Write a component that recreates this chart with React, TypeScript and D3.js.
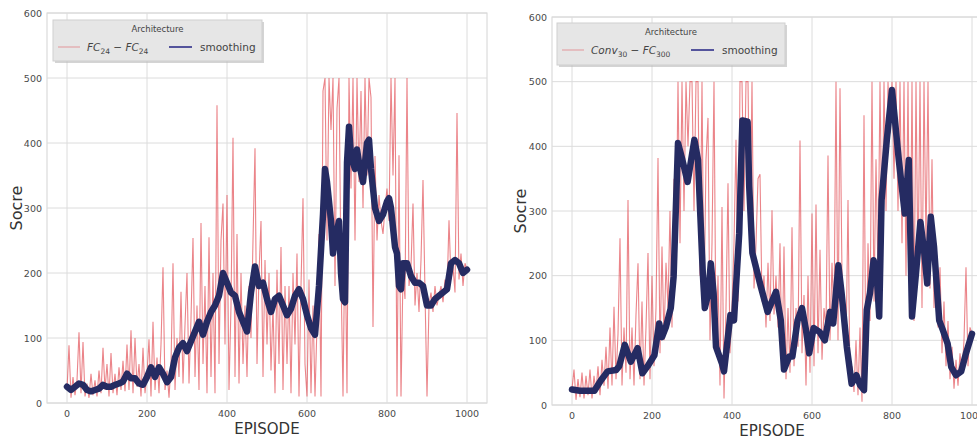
import * as d3 from 'd3';
import React from 'react';

// ---- data ----
const xTicks = [0, 200, 400, 600, 800, 1000];
const yTicks = [0, 100, 200, 300, 400, 500, 600];

// raw score, one value every 5 episodes (0..1000)
const rawStep = 5;
const rawFC = [
  20, 89, 8, 40, 12, 35, 109, 15, 94, 10,
  30, 8, 45, 12, 35, 10, 50, 15, 85, 20,
  60, 10, 77, 15, 45, 12, 55, 20, 65, 18,
  90, 20, 112, 15, 100, 25, 60, 10, 85, 15,
  45, 98, 10, 125, 20, 70, 15, 90, 209, 20,
  50, 8, 60, 215, 20, 100, 40, 171, 30, 120,
  200, 30, 130, 254, 40, 150, 20, 277, 60, 180,
  15, 255, 40, 200, 15, 458, 60, 250, 307, 90,
  320, 20, 150, 408, 40, 260, 30, 200, 60, 150,
  40, 180, 100, 250, 392, 60, 200, 280, 40, 220,
  90, 200, 50, 150, 15, 205, 60, 240, 20, 180,
  60, 180, 15, 200, 90, 230, 10, 180, 315, 60,
  10, 190, 15, 150, 10, 120, 260, 10, 480, 500,
  250, 500, 420, 500, 180, 453, 500, 200, 10, 270,
  15, 500, 330, 500, 250, 500, 340, 480, 300, 500,
  350, 500, 470, 117, 380, 250, 320, 280, 260, 300,
  330, 280, 500, 350, 500, 10, 381, 10, 200, 160,
  500, 180, 210, 307, 150, 200, 140, 220, 343, 170,
  10, 150, 170, 140, 180, 150, 165, 180, 155, 190,
  170, 281, 190, 210, 170, 446, 190, 230, 180, 215,
  205,
];
const rawConv = [
  25, 55, 8, 40, 12, 50, 10, 45, 15, 55,
  10, 45, 20, 60, 15, 70, 30, 90, 25, 120,
  30, 152, 40, 110, 258, 30, 120, 50, 317, 40,
  120, 30, 140, 219, 40, 160, 30, 120, 235, 40,
  200, 60, 150, 382, 80, 245, 100, 220, 150, 300,
  120, 350, 230, 500, 250, 500, 300, 500, 400, 500,
  500, 300, 500, 500, 200, 500, 150, 380, 444, 100,
  250, 500, 90, 200, 30, 306, 10, 150, 343, 80,
  150, 250, 410, 160, 500, 500, 300, 500, 500, 250,
  500, 180, 250, 350, 357, 160, 200, 120, 220, 130,
  301, 140, 200, 120, 250, 60, 245, 40, 150, 50,
  275, 60, 150, 90, 409, 80, 170, 30, 200, 50,
  296, 60, 310, 80, 240, 70, 150, 120, 386, 100,
  220, 130, 500, 100, 490, 200, 150, 80, 317, 30,
  60, 20, 100, 15, 120, 5, 448, 20, 250, 130,
  500, 160, 380, 200, 500, 250, 500, 300, 500, 420,
  500, 350, 500, 300, 500, 250, 500, 200, 500, 150,
  500, 130, 500, 200, 500, 150, 500, 250, 500, 180,
  380, 150, 250, 120, 213, 80, 160, 60, 130, 40,
  90, 25, 70, 30, 80, 50, 100, 213, 60, 120,
  110,
];

// smoothing curves
const smoothFCEp = [
  0, 10, 20, 30, 40, 50, 60, 70, 80, 90, 100, 110, 120, 130, 140, 150, 160, 170, 180, 190,
  200, 210, 220, 230, 240, 250, 260, 270, 280, 290, 300, 310, 320, 330, 340, 350, 360, 370, 380, 390,
  400, 410, 420, 430, 440, 450, 460, 470, 480, 490, 500, 510, 520, 530, 540, 550, 560, 570, 580, 590,
  600, 610, 620, 630, 640, 645, 650, 660, 665, 670, 680, 685, 690, 695, 700, 705, 710, 720, 725, 730,
  740, 750, 755, 760, 770, 780, 790, 800, 805, 810, 820, 825, 830, 835, 840, 850, 860, 870, 880, 890,
  900, 910, 920, 930, 940, 950, 960, 970, 980, 990, 1000,
];
const smoothFC = [
  25, 20, 25, 30, 28, 20, 18, 20, 22, 28, 25, 25, 28, 30, 33, 45, 38, 38, 30, 28,
  40, 55, 40, 55, 45, 32, 40, 70, 85, 92, 80, 95, 110, 125, 105, 125, 140, 150, 165, 200,
  185, 170, 165, 140, 125, 110, 170, 210, 180, 185, 160, 140, 160, 165, 150, 135, 145, 165, 175, 160,
  135, 115, 105, 180, 290, 360, 340, 280, 230, 250, 280, 200, 160, 155, 370, 425, 380, 360, 390, 370,
  340, 400, 405, 360, 300, 280, 290, 310, 315, 300, 240, 230, 180, 175, 215, 215, 195, 185, 185, 180,
  150, 150, 160, 165, 170, 175, 215, 220, 215, 200, 205,
];
const smoothConvEp = [
  0, 20, 40, 56, 72, 89, 110, 118, 132, 147, 164, 176, 189, 206, 218, 225, 235, 247, 254, 265,
  276, 289, 306, 315, 321, 327, 332, 341, 347, 354, 360, 375, 380, 396, 405, 418, 426, 439, 443, 451,
  472, 489, 510, 522, 530, 543, 551, 564, 575, 585, 593, 604, 619, 632, 645, 653, 666, 674, 687, 699,
  711, 720, 730, 737, 745, 754, 762, 768, 774, 787, 800, 808, 817, 832, 842, 850, 860, 871, 880, 888,
  897, 905, 918, 927, 939, 948, 960, 973, 985, 1000,
];
const smoothConv = [
  24, 22, 22, 22, 38, 52, 54, 60, 93, 67, 88, 49, 60, 77, 126, 105, 121, 150, 198, 405,
  379, 345, 410, 379, 291, 204, 150, 173, 219, 173, 90, 64, 52, 139, 131, 265, 440, 438, 338, 235,
  183, 144, 175, 131, 55, 75, 75, 131, 150, 116, 80, 119, 113, 100, 144, 126, 216, 173, 90, 33,
  46, 31, 23, 147, 173, 224, 198, 137, 317, 410, 487, 436, 379, 296, 379, 137, 204, 283, 240, 188,
  291, 245, 131, 116, 95, 59, 46, 52, 80, 110,
];

// ---- layout ----
const W = 977;
const H = 441;
const FONT = 'DejaVu Sans, sans-serif';
const RAW_COLOR = '#e3555c';
const SMOOTH_COLOR = '#252b62';

type Panel = {
  left: number; right: number; top: number; bottom: number;
  raw: number[]; sEp: number[]; sVal: number[];
  legend: { x: number; y: number; w: number; h: number; labelMain: string; sub1: string; sub2: string; main2: string; blueX: number };
  yLabelX: number;
};

const panels: Panel[] = [
  {
    left: 47, right: 487, top: 13, bottom: 403,
    raw: rawFC, sEp: smoothFCEp, sVal: smoothFC,
    legend: { x: 53, y: 20, w: 209, h: 41, labelMain: 'FC', sub1: '24', main2: 'FC', sub2: '24', blueX: 169 },
    yLabelX: 16,
  },
  {
    left: 552, right: 992, top: 17, bottom: 405,
    raw: rawConv, sEp: smoothConvEp, sVal: smoothConv,
    legend: { x: 557, y: 23, w: 228, h: 42, labelMain: 'Conv', sub1: '30', main2: 'FC', sub2: '300', blueX: 691 },
    yLabelX: 520,
  },
];

function ChartPanel({ p, idx }: { p: Panel; idx: number }) {
  const x = d3.scaleLinear().domain([-50, 1050]).range([p.left, p.right]);
  const y = d3.scaleLinear().domain([0, 600]).range([p.bottom, p.top]);

  const rawLine = d3
    .line<number>()
    .x((d, i) => x(i * rawStep))
    .y((d) => y(d));
  const smoothLine = d3
    .line<number>()
    .x((d, i) => x(p.sEp[i]))
    .y((d) => y(d));

  const L = p.legend;
  const midY = L.y + 27;
  const clipId = 'clip' + idx;

  return (
    <g>
      <defs>
        <clipPath id={clipId}>
          <rect x={p.left} y={p.top} width={p.right - p.left} height={p.bottom - p.top} />
        </clipPath>
      </defs>
      <rect x={p.left} y={p.top} width={p.right - p.left} height={p.bottom - p.top} fill="#fff" stroke="#d4d4d4" />
      {xTicks.map((t) => (
        <line key={'gx' + t} x1={x(t)} x2={x(t)} y1={p.top} y2={p.bottom} stroke="#dcdcdc" strokeWidth={1} />
      ))}
      {yTicks.map((t) => (
        <line key={'gy' + t} x1={p.left} x2={p.right} y1={y(t)} y2={y(t)} stroke="#dcdcdc" strokeWidth={1} />
      ))}
      <g clipPath={`url(#${clipId})`}>
        <path d={rawLine(p.raw) || ''} fill="none" stroke={RAW_COLOR} strokeOpacity={0.72} strokeWidth={1.1} />
        <path d={smoothLine(p.sVal) || ''} fill="none" stroke={SMOOTH_COLOR} strokeWidth={6.5} strokeLinejoin="round" strokeLinecap="round" />
      </g>
      {xTicks.map((t) => (
        <text key={'tx' + t} x={x(t)} y={p.bottom + 14} textAnchor="middle" fontSize={9.5} fill="#4a4a4a" fontFamily={FONT}>
          {t}
        </text>
      ))}
      {yTicks.map((t) => (
        <text key={'ty' + t} x={p.left - 5} y={y(t) + 3.5} textAnchor="end" fontSize={9.5} fill="#4a4a4a" fontFamily={FONT}>
          {t}
        </text>
      ))}
      <text x={(x(0) + x(1000)) / 2} y={p.bottom + 31} textAnchor="middle" fontSize={15} fill="#333" fontFamily={FONT}>
        EPISODE
      </text>
      <text
        transform={`translate(${p.yLabelX},${(p.top + p.bottom) / 2}) rotate(-90)`}
        textAnchor="middle"
        dy="0.35em"
        fontSize={16}
        fill="#333"
        fontFamily={FONT}
      >
        Socre
      </text>

      {/* legend */}
      <rect x={L.x + 2} y={L.y + 2} width={L.w} height={L.h} fill="#b8b8b8" opacity={0.6} />
      <rect x={L.x} y={L.y} width={L.w} height={L.h} fill="#e6e6e6" stroke="#cfcfcf" />
      <text x={L.x + L.w / 2} y={L.y + 12} textAnchor="middle" fontSize={8.5} fill="#444" fontFamily={FONT}>
        Architecture
      </text>
      <line x1={L.x + 5} x2={L.x + 27} y1={midY} y2={midY} stroke={RAW_COLOR} strokeOpacity={0.45} strokeWidth={1.2} />
      <text x={L.x + 34} y={midY + 4} fontSize={10.5} fill="#444" fontFamily={FONT} fontStyle="italic">
        {L.labelMain}
        <tspan fontSize={7.5} dy={2.5} fontStyle="normal">{L.sub1}</tspan>
        <tspan dy={-2.5} fontStyle="normal"> − </tspan>
        <tspan>{L.main2}</tspan>
        <tspan fontSize={7.5} dy={2.5} fontStyle="normal">{L.sub2}</tspan>
      </text>
      <line x1={L.blueX} x2={L.blueX + 23} y1={midY} y2={midY} stroke="#2f2f8a" strokeWidth={1.6} />
      <text x={L.blueX + 31} y={midY + 4} fontSize={10.5} fill="#444" fontFamily={FONT}>
        smoothing
      </text>
    </g>
  );
}

export default function App() {
  return (
    <svg
      width={W}
      height={H}
      viewBox={`0 0 ${W} ${H}`}
      style={{ position: 'absolute', left: 0, top: 0, display: 'block', background: '#fff' }}
    >
      {panels.map((p, i) => (
        <ChartPanel key={i} p={p} idx={i} />
      ))}
    </svg>
  );
}
